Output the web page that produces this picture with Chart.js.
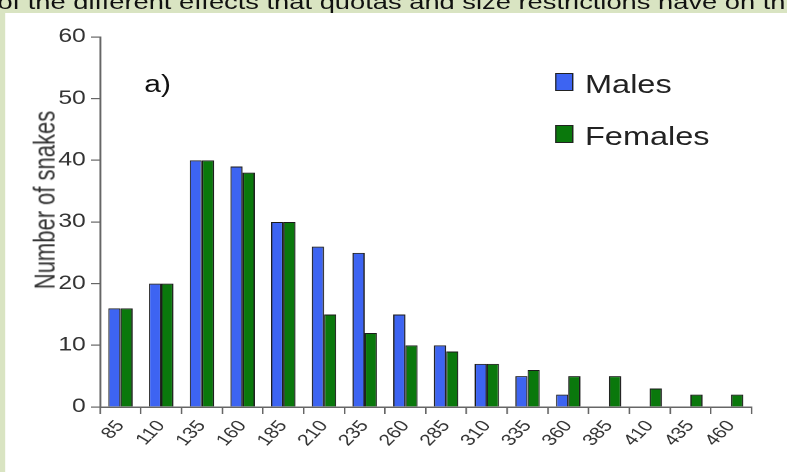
<!DOCTYPE html>
<html>
<head>
<meta charset="utf-8">
<script src="https://cdn.jsdelivr.net/npm/chart.js@4"></script>
<style>
  body { margin: 0; background: #d9e4c2; width: 787px; height: 472px; overflow: hidden; position: relative; font-family: "Liberation Sans", Arial, sans-serif; }
  /* the source figure is stretched sideways, so the whole stage is too */
  #stage { position: absolute; left: 0; top: 0; width: 606px; height: 472px; transform: scaleX(1.3); transform-origin: 0 0; }
  #caption { position: absolute; left: -2px; top: -9px; font-size: 21px; line-height: 21px; color: #111; white-space: nowrap; }
  #panel { position: absolute; left: 4px; top: 13px; right: -4px; bottom: 0; background: #fff; }
  #wrap { position: absolute; left: 0; top: 0; width: 606px; height: 472px; }
  #tag { position: absolute; left: 111px; top: 73px; font-size: 23px; line-height: 23px; color: #111; }
  #ytitle { position: absolute; left: 35px; top: 200px; font-size: 22px; line-height: 22px; color: #333; white-space: nowrap; transform: translate(-50%, -50%) rotate(-90deg); }
  .item { position: absolute; left: 427px; font-size: 25px; line-height: 25px; color: #222; white-space: nowrap; }
  .box { position: absolute; left: 0; top: 1px; width: 12px; height: 16px; border: 1px solid #222; }
  .label { position: absolute; left: 23px; top: 0; }
</style>
</head>
<body>
<div id="stage">
  <div id="caption">of the different effects that quotas and size restrictions have on th</div>
  <div id="panel"></div>
  <div id="wrap"><canvas id="snakeChart" width="606" height="472"></canvas></div>
  <div id="ytitle">Number of snakes</div>
  <div id="tag">a)</div>
  <div id="legend"></div>
</div>
<script>
// ---------- DATA ----------
const sizeClasses = ["85", "110", "135", "160", "185", "210", "235", "260", "285", "310", "335", "360", "385", "410", "435", "460"];
const males = [16, 20, 40, 39, 30, 26, 25, 15, 10, 7, 5, 2, 0, 0, 0, 0];
const females = [16, 20, 40, 38, 30, 15, 12, 10, 9, 7, 6, 5, 5, 3, 2, 2];
const yTicks = [0, 10, 20, 30, 40, 50, 60];

const MALE_COLOR = "#3d64f2";
const FEMALE_COLOR = "#0a780c";
const FONT = "Liberation Sans";

// ---------- CHART ----------
const ctx = document.getElementById("snakeChart").getContext("2d");

const snakeChart = new Chart(ctx, {
  type: "bar",
  data: {
    labels: sizeClasses,
    datasets: [
      { label: "Males", data: males, backgroundColor: MALE_COLOR, borderColor: "#1b1b1b", borderWidth: 1 },
      { label: "Females", data: females, backgroundColor: FEMALE_COLOR, borderColor: "#1b1b1b", borderWidth: 1 },
    ],
  },
  options: {
    responsive: false,
    animation: false,
    devicePixelRatio: 2,
    layout: { padding: { left: 0, right: 28, top: 37, bottom: 0 } },
    datasets: { bar: { categoryPercentage: 0.6, barPercentage: 1.0 } },
    scales: {
      x: {
        afterFit: (scale) => { scale.height = 65; },
        grid: { offset: true, drawOnChartArea: false, tickLength: 7, color: "#666", lineWidth: 1.2 },
        border: { color: "#666", width: 1.5 },
        ticks: { color: "#333", font: { size: 16, family: FONT }, autoSkip: false, minRotation: 52, maxRotation: 52, padding: 3 },
      },
      y: {
        min: 0,
        max: 60,
        afterFit: (scale) => { scale.width = 77; },
        afterBuildTicks: (scale) => { scale.ticks = yTicks.map((v) => ({ value: v })); },
        grid: { drawOnChartArea: false, tickLength: 7, color: "#666", lineWidth: 1.2 },
        border: { color: "#666", width: 1.5 },
        ticks: { color: "#333", font: { size: 19, family: FONT }, padding: 4 },
      },
    },
    plugins: {
      legend: { display: false },
      tooltip: { enabled: false },
    },
  },
});

// ---------- LEGEND ----------
const legendEl = document.getElementById("legend");
const legendTops = [72, 124];
snakeChart.data.datasets.forEach((ds, i) => {
  const item = document.createElement("div");
  item.className = "item";
  item.style.top = legendTops[i] + "px";
  item.innerHTML = `<span class="box" style="background:${ds.backgroundColor}"></span><span class="label">${ds.label}</span>`;
  legendEl.appendChild(item);
});
</script>
</body>
</html>
